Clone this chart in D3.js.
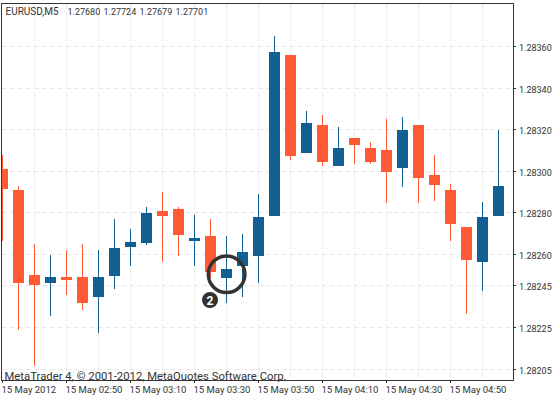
<!DOCTYPE html>
<html><head><meta charset="utf-8">
<script src="https://cdnjs.cloudflare.com/ajax/libs/d3/7.8.5/d3.min.js"></script>
<style>html,body{margin:0;padding:0;background:#fff}svg{display:block}text{font-family:Roboto,"Noto Sans",sans-serif;fill:#333}</style>
</head><body><svg id="c" width="554" height="403"></svg>
<script>
const symbol = "EURUSD,M5";
const ohlc = ["1.27680","1.27724","1.27679","1.27701"];
const watermark = "MetaTrader 4, © 2001-2012, MetaQuotes Software Corp.";
const priceTicks = [1.28360,1.28340,1.28320,1.28300,1.28280,1.28260,1.28245,1.28225,1.28205];
const timeTicks = ["15 May 2012","15 May 02:50","15 May 03:10","15 May 03:30","15 May 03:50","15 May 04:10","15 May 04:30","15 May 04:50"];
const opens  = [1.283010,1.282910,1.282500,1.282463,1.282492,1.282492,1.282396,1.282497,1.282636,1.282655,1.282809,1.282819,1.282665,1.282689,1.282487,1.282545,1.282593,1.282785,1.283559,1.283088,1.283223,1.283025,1.283160,1.283112,1.283102,1.283016,1.283223,1.282982,1.282910,1.282732,1.282564,1.282785];
const highs  = [1.283078,1.282930,1.282650,1.282598,1.282622,1.282650,1.282622,1.282771,1.282723,1.282828,1.282900,1.282828,1.282790,1.282771,1.282689,1.282699,1.282891,1.283650,1.283559,1.283290,1.283270,1.283213,1.283160,1.283141,1.283251,1.283261,1.283223,1.283078,1.282939,1.282732,1.282852,1.283199];
const lows   = [1.282665,1.282237,1.282064,1.282304,1.282405,1.282333,1.282223,1.282434,1.282545,1.282646,1.282564,1.282593,1.282545,1.282487,1.282367,1.282396,1.282463,1.282785,1.283054,1.283088,1.283025,1.283025,1.283035,1.283035,1.282848,1.282925,1.282848,1.282857,1.282665,1.282314,1.282425,1.282785];
const closes = [1.282915,1.282463,1.282453,1.282492,1.282477,1.282367,1.282492,1.282631,1.282660,1.282800,1.282785,1.282694,1.282680,1.282516,1.282530,1.282612,1.282780,1.283574,1.283074,1.283232,1.283045,1.283112,1.283126,1.283045,1.282997,1.283199,1.282968,1.282934,1.282747,1.282574,1.282780,1.282930];

const L=2, R=513, T=4, B=380;
const svg = d3.select("#c");
const y = d3.scaleLinear().domain([1.28205,1.28360]).range([369,46.5]);
const x = d3.scaleBand().domain(d3.range(opens.length)).range([-5.5,506.5]);
const cx = i => Math.floor(x(i)+x.bandwidth()/2)+0.5;
const gridC="#e8e8e8", axisC="#333", up="#125f94", down="#ff5a33";

svg.append("clipPath").attr("id","plot").append("rect")
  .attr("x",L).attr("y",T).attr("width",R-L).attr("height",B-T);

const grid = svg.append("g").attr("stroke",gridC).attr("stroke-dasharray","5 3").attr("fill","none");
priceTicks.forEach(p=>{const v=Math.floor(y(p))+0.5;
  grid.append("line").attr("x1",L).attr("x2",R).attr("y1",v).attr("y2",v);});
d3.range(2,31,2).forEach(i=>{grid.append("line").attr("x1",cx(i)).attr("x2",cx(i)).attr("y1",T).attr("y2",B);});

const g = svg.append("g").attr("clip-path","url(#plot)");
opens.forEach((o,i)=>{
  const c = closes[i]>=o ? up : down;
  g.append("rect").attr("x",cx(i)-0.5).attr("width",1).attr("y",Math.round(y(highs[i]))).attr("height",Math.round(y(lows[i]))-Math.round(y(highs[i]))).attr("fill",c);
  const t=Math.round(y(Math.max(o,closes[i]))), b=Math.round(y(Math.min(o,closes[i])));
  g.append("rect").attr("x",cx(i)-5.5).attr("width",11).attr("y",t).attr("height",Math.max(1,b-t)).attr("fill",c);
});

svg.append("rect").attr("x",1.5).attr("y",3.5).attr("width",512).attr("height",377).attr("fill","none").attr("stroke",axisC);

function label(s,px,py,size){
  return svg.append("text").attr("x",px).attr("y",py).attr("font-size",size).text(s);
}
priceTicks.forEach(p=>{const v=Math.floor(y(p))+0.5;
  svg.append("line").attr("x1",513).attr("x2",516).attr("y1",v).attr("y2",v).attr("stroke",axisC);
  label(p.toFixed(5),519,v+4,9);});
timeTicks.forEach((t,i)=>{const tx=2.5+i*64;
  svg.append("line").attr("x1",tx).attr("x2",tx).attr("y1",B).attr("y2",B+3).attr("stroke",axisC);
  label(t,tx-1,393,9.5);});

label(symbol,5.5,15,10);
ohlc.forEach((s,i)=>label(s,67.5+i*36,15,9));
label(watermark,4.5,380,11.3);

svg.append("circle").attr("cx",226.6).attr("cy",274.3).attr("r",18.3).attr("fill","none").attr("stroke","#333").attr("stroke-width",3.5);
svg.append("circle").attr("cx",210).attr("cy",300).attr("r",8).attr("fill","#333");
svg.append("text").attr("x",210).attr("y",304.5).attr("text-anchor","middle").attr("font-size",12).attr("font-weight",700).style("fill","#fff").text("2");
</script></body></html>
